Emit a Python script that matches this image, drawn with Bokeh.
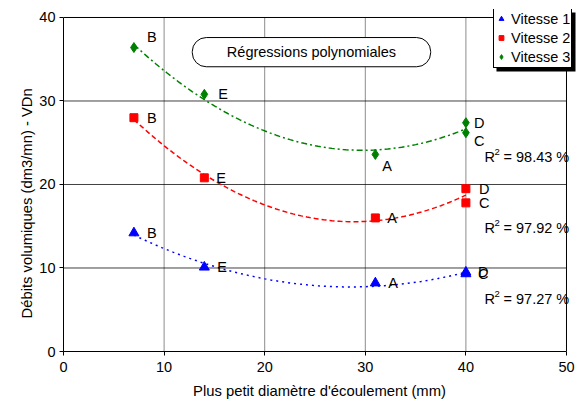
import numpy as np
from bokeh.plotting import figure
from bokeh.models import (ColumnDataSource, Legend, LegendItem, BoxAnnotation,
                          Label, Range1d, FixedTicker, Title)
from bokeh.core.properties import value
from bokeh.embed import file_html
from bokeh.resources import INLINE

FONT = "Liberation Sans"

# ---- data ----
x_vals = [7, 14, 31, 40, 40]
point_names = ["B", "E", "A", "D", "C"]
vitesse1 = [14.2, 10.1, 8.2, 9.5, 9.3]
vitesse2 = [28.0, 20.8, 16.0, 19.5, 17.8]
vitesse3 = [36.4, 30.8, 23.6, 27.4, 26.2]
series_names = ["Vitesse 1", "Vitesse 2", "Vitesse 3"]
r2_values = ["97.27", "97.92", "98.43"]
x_ticks = [0, 10, 20, 30, 40, 50]
y_ticks = [0, 10, 20, 30, 40]
title_text = "Régressions polynomiales"
x_label = "Plus petit diamètre d'écoulement (mm)"
y_label = "Débits volumiques (dm3/mn) - VDn"

# ---- styles ----
colors = ["#0000FF", "#FF0000", "#008000"]
markers = ["triangle", "square", "diamond"]
msizes = [10, 8, 10]
dashes = ["2 4", "5 3", "6 3 2 3"]
lbl_dx = [[13, 13, 13, 12, 12], [13, 12, 12, 13, 13], [13, 14, 7, 8, 8]]
lbl_dy = [[0, 0, 0, 0, 0], [0, 0, 0, 0, 0], [-11, 0, 12, 0, 8]]
r2_pos = [(41.85, 6.3), (41.85, 14.75), (41.85, 23.35)]

XMAX, YMAX = x_ticks[-1], y_ticks[-1]

p = figure(width=577, height=407, output_backend="svg", toolbar_location=None,
           x_range=Range1d(0, 50.895), y_range=Range1d(0, 40.958),
           min_border_left=63, min_border_right=2, min_border_top=9,
           min_border_bottom=56)
p.background_fill_color = "white"
p.border_fill_color = "white"
p.outline_line_color = None
p.xgrid.grid_line_color = None
p.ygrid.grid_line_color = None

p.xaxis.ticker = FixedTicker(ticks=x_ticks)
p.yaxis.ticker = FixedTicker(ticks=y_ticks)
p.xaxis.bounds = (0, XMAX)
p.yaxis.bounds = (0, YMAX)
for ax in (p.xaxis, p.yaxis):
    ax.axis_line_color = "black"
    ax.major_tick_line_color = "black"
    ax.major_tick_out = 4
    ax.major_tick_in = 0
    ax.minor_tick_line_color = None
    ax.major_label_text_font = FONT
    ax.major_label_text_font_size = "14.5px"
    ax.major_label_text_color = "black"
    ax.axis_label_text_font = FONT
    ax.axis_label_text_font_size = "14.8px"
    ax.axis_label_text_font_style = "normal"
    ax.axis_label_text_color = "black"
p.xaxis.major_label_standoff = 6
p.yaxis.major_label_standoff = 4
p.xaxis.axis_label = x_label
p.xaxis.axis_label_standoff = 8

# y title placed in the left panel
p.add_layout(Title(text=y_label, align="left", offset=33, standoff=4,
                   text_font=FONT, text_font_size="14.8px",
                   text_font_style="normal", text_color="black"), "left")

# grid lines (bounded to the data area)
vx = [t for t in x_ticks if 0 < t < XMAX]
hy = [t for t in y_ticks if 0 < t < YMAX]
p.segment(x0=vx, x1=vx, y0=[0] * len(vx), y1=[YMAX] * len(vx),
          line_color="black", line_dash="1 1", line_alpha=0.9, level="underlay")
p.segment(x0=[0] * len(hy), x1=[XMAX] * len(hy), y0=hy, y1=hy,
          line_color="black", line_alpha=0.75, level="underlay")
# frame top & right
p.segment(x0=[0, XMAX], x1=[XMAX, XMAX], y0=[YMAX, 0], y1=[YMAX, YMAX],
          line_color="black", line_width=1)

series = [vitesse1, vitesse2, vitesse3]
legend_items = []
xs = np.linspace(min(x_vals), max(x_vals), 120)
for i, ys in enumerate(series):
    coef = np.polyfit(x_vals, ys, 2)
    p.line(xs, np.polyval(coef, xs), line_color=colors[i], line_width=1.5,
           line_dash=dashes[i])
for i, ys in enumerate(series):
    src = ColumnDataSource(dict(x=x_vals, y=ys, name=point_names,
                                dx=lbl_dx[i], dy=lbl_dy[i]))
    r = p.scatter("x", "y", source=src, marker=markers[i], size=msizes[i],
                  fill_color=colors[i], line_color=colors[i])
    legend_items.append(LegendItem(label=series_names[i], renderers=[r]))
    p.text("x", "y", text="name", source=src, x_offset="dx", y_offset="dy",
           text_font=value(FONT), text_font_size="14.5px", text_color="black",
           text_align="left", text_baseline="middle")

# R² labels
for i in range(3):
    x0, y0 = r2_pos[i]
    p.add_layout(Label(x=x0, y=y0, text="R", text_font=FONT, text_font_size="14.5px",
                       text_baseline="middle", text_align="left", text_color="black"))
    p.add_layout(Label(x=x0, y=y0, x_offset=10, y_offset=5, text="2", text_font=FONT,
                       text_font_size="9.5px", text_baseline="middle",
                       text_align="left", text_color="black"))
    p.add_layout(Label(x=x0, y=y0, x_offset=19, text="= " + r2_values[i] + " %",
                       text_font=FONT, text_font_size="14.5px",
                       text_baseline="middle", text_align="left", text_color="black"))

# title box
p.add_layout(BoxAnnotation(left=12.8, right=36.5, top=37.6, bottom=34.1,
                           fill_color="white", fill_alpha=1, line_color="black",
                           line_alpha=1, line_width=1, border_radius=14))
p.add_layout(Label(x=24.65, y=35.85, text=title_text, text_font=FONT,
                   text_font_size="14.5px", text_align="center",
                   text_baseline="middle", text_color="black"))

# legend shadow
p.add_layout(BoxAnnotation(left=43.04, right=50.99, top=40.6, bottom=33.53,
                           fill_color="black", fill_alpha=1, line_color=None))

legend = Legend(items=legend_items, location=(430, 283), orientation="vertical",
                label_text_font=FONT, label_text_font_size="14.5px",
                label_text_color="black", glyph_width=12, glyph_height=19,
                label_height=19, label_standoff=4, padding=1, spacing=0,
                margin=0, border_line_color="black", border_line_width=1,
                border_line_alpha=1,
                background_fill_color="white", background_fill_alpha=1)
p.add_layout(legend, "center")

open("out.html", "w").write(file_html(p, INLINE))
